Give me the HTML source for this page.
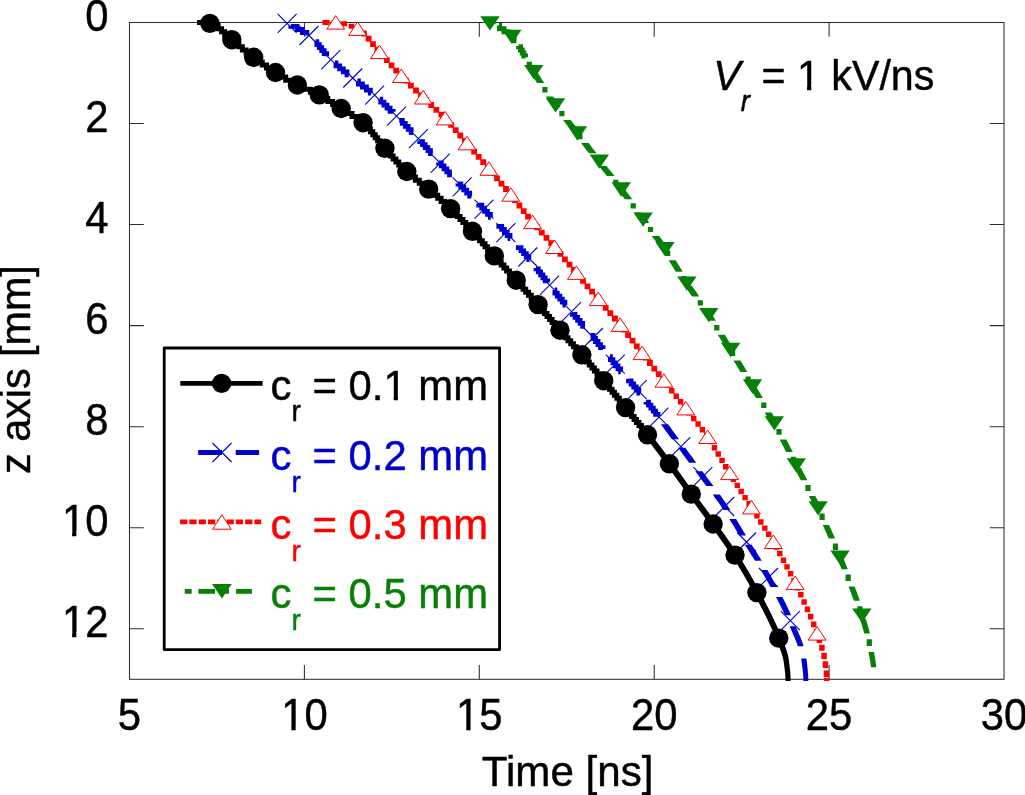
<!DOCTYPE html>
<html><head><meta charset="utf-8"><title>z axis vs time</title>
<style>
html,body{margin:0;padding:0;background:#fff;}
body{width:1025px;height:795px;overflow:hidden;font-family:"Liberation Sans",sans-serif;}
svg{display:block;will-change:transform;}
</style></head><body>
<svg width="1025" height="795" viewBox="0 0 1025 795">
<rect width="1025" height="795" fill="#fff"/>
<g stroke="#2e2e2e" stroke-width="1.05" fill="none">
<rect x="129.50" y="22.50" width="874.50" height="656.80"/>
<path d="M304.40 679.30v-14.30M304.40 22.50v14.30M479.30 679.30v-14.30M479.30 22.50v14.30M654.20 679.30v-14.30M654.20 22.50v14.30M829.10 679.30v-14.30M829.10 22.50v14.30M129.50 123.55h14.30M1004.00 123.55h-14.30M129.50 224.59h14.30M1004.00 224.59h-14.30M129.50 325.64h14.30M1004.00 325.64h-14.30M129.50 426.68h14.30M1004.00 426.68h-14.30M129.50 527.73h14.30M1004.00 527.73h-14.30M129.50 628.78h14.30M1004.00 628.78h-14.30"/>
</g>
<clipPath id="cp"><rect x="129.50" y="0" width="874.50" height="680.90"/></clipPath>
<g fill="none" clip-path="url(#cp)" stroke-linejoin="miter">
<path d="M487.3 22.6L493.0 22.6L493.0 24.2M499.0 25.6L499.5 25.6L499.5 28.7L504.0 28.7L504.0 31.7L507.8 31.7L507.8 34.6M511.9 37.8L514.1 37.8L514.1 40.8L516.4 40.8M518.6 46.0L518.6 46.8L520.5 46.8L520.5 49.9L522.3 49.9L522.3 52.9L523.9 52.9L523.9 55.9L525.5 55.9L525.5 57.2" stroke="#068006" stroke-width="5.0"/>
<path d="M526.7 61.8H531.9V67.6H526.7ZM537.1 72.0L538.1 73.5L539.1 75.1L540.1 76.6L541.1 78.2L542.1 79.8L543.1 81.3L544.1 82.9L537.0 82.9L536.0 81.3L535.0 79.8L534.0 78.2L533.0 76.6L532.0 75.1L531.0 73.5L530.1 72.0ZM542.3 87.0H547.5V92.4H542.3ZM553.1 96.6L554.2 98.1L555.2 99.6L556.3 101.2L557.4 102.7L558.5 104.2L559.6 105.7L560.7 107.3L553.3 107.3L552.2 105.7L551.2 104.2L550.1 102.7L549.0 101.2L548.0 99.6L547.0 98.1L545.9 96.6ZM559.3 111.1H564.5V116.3H559.3ZM570.7 120.1L572.1 121.8L573.4 123.5L574.8 125.2L576.1 126.9L577.4 128.6L578.7 130.3L571.1 130.3L569.8 128.6L568.4 126.9L567.1 125.2L565.7 123.5L564.4 121.8L563.1 120.1ZM577.3 134.0H582.5V139.2H577.3ZM588.7 143.0L590.0 144.7L591.3 146.4L592.6 148.2L593.9 149.9L595.3 151.6L596.6 153.3L589.0 153.3L587.7 151.6L586.3 149.9L585.0 148.2L583.7 146.4L582.4 144.7L581.1 143.0ZM595.1 157.0H600.3V162.2H595.1ZM606.6 166.0L607.9 167.7L609.3 169.4L610.6 171.1L612.0 172.7L613.3 174.4L614.6 176.1L606.9 176.1L605.6 174.4L604.3 172.7L602.9 171.1L601.6 169.4L600.2 167.7L598.9 166.0ZM613.2 179.8H618.4V185.0H613.2ZM624.5 188.9L625.8 190.6L627.1 192.4L628.4 194.1L629.7 195.8L630.9 197.6L632.2 199.3L624.8 199.3L623.5 197.6L622.2 195.8L620.9 194.1L619.6 192.4L618.3 190.6L617.0 188.9ZM630.6 203.2H635.8V208.5H630.6ZM641.7 212.6L643.0 214.3L644.2 216.1L645.5 217.8L646.8 219.6L648.1 221.3L649.4 223.1L641.9 223.1L640.6 221.3L639.4 219.6L638.1 217.8L636.8 216.1L635.6 214.3L634.3 212.6ZM647.9 226.9H653.1V232.1H647.9ZM659.2 236.0L660.3 237.5L661.4 239.0L662.5 240.5L663.6 242.0L664.7 243.5L665.7 245.0L666.8 246.5L659.5 246.5L658.4 245.0L657.3 243.5L656.2 242.0L655.1 240.5L654.0 239.0L652.8 237.5L651.7 236.0ZM665.1 250.5H670.3V256.0H665.1ZM675.7 260.3L676.7 261.9L677.7 263.6L678.7 265.2L679.7 266.8L680.7 268.4L681.7 270.0L682.7 271.7L675.7 271.7L674.7 270.0L673.7 268.4L672.7 266.8L671.7 265.2L670.7 263.6L669.7 261.9L668.7 260.3ZM681.0 275.9H686.2V281.4H681.0ZM691.8 285.6L692.8 287.2L693.9 288.7L695.0 290.3L696.1 291.8L697.1 293.3L698.2 294.9L699.3 296.4L692.0 296.4L690.9 294.9L689.8 293.3L688.8 291.8L687.7 290.3L686.6 288.7L685.6 287.2L684.6 285.6ZM697.7 300.3H702.9V305.6H697.7ZM708.7 309.8L709.8 311.3L710.8 312.9L711.8 314.5L712.9 316.0L713.9 317.6L714.9 319.2L715.9 320.7L708.8 320.7L707.8 319.2L706.8 317.6L705.7 316.0L704.7 314.5L703.6 312.9L702.5 311.3L701.4 309.8ZM714.2 324.9H719.4V330.4H714.2ZM724.8 334.8L725.8 336.4L726.8 338.0L727.8 339.7L728.8 341.3L729.8 342.9L730.8 344.5L731.8 346.2L724.8 346.2L723.8 344.5L722.8 342.9L721.8 341.3L720.8 339.7L719.8 338.0L718.8 336.4L717.8 334.8ZM730.0 350.4H735.2V356.1H730.0ZM740.5 360.5L741.5 362.2L742.4 363.8L743.4 365.5L744.4 367.1L745.4 368.8L746.4 370.4L747.4 372.0L740.5 372.0L739.5 370.4L738.5 368.8L737.5 367.1L736.5 365.5L735.5 363.8L734.5 362.2L733.5 360.5ZM745.6 376.4H750.8V382.1H745.6ZM756.0 386.6L757.0 388.2L758.0 389.8L759.0 391.5L760.0 393.1L761.0 394.8L761.9 396.4L762.9 398.1L756.0 398.1L755.0 396.4L754.0 394.8L753.0 393.1L752.0 391.5L751.1 389.8L750.1 388.2L749.1 386.6ZM761.2 402.4H766.4V408.0H761.2ZM771.6 412.5L772.6 414.2L773.5 415.9L774.5 417.6L775.5 419.3L776.4 421.0L777.3 422.6L778.3 424.3L771.5 424.3L770.6 422.6L769.6 421.0L768.7 419.3L767.7 417.6L766.7 415.9L765.7 414.2L764.7 412.5ZM776.4 428.9H781.6V434.8H776.4ZM786.4 439.6L787.2 441.2L788.0 442.8L788.8 444.3L789.6 445.9L790.4 447.4L791.2 449.0L792.0 450.6L792.8 452.1L786.2 452.1L785.4 450.6L784.6 449.0L783.8 447.4L783.0 445.9L782.2 444.3L781.4 442.8L780.6 441.2L779.8 439.6ZM790.9 456.8H796.1V462.9H790.9ZM800.9 467.8L801.7 469.3L802.5 470.9L803.3 472.4L804.1 474.0L804.9 475.5L805.7 477.1L806.5 478.6L807.3 480.2L800.7 480.2L799.9 478.6L799.1 477.1L798.3 475.5L797.5 474.0L796.7 472.4L795.9 470.9L795.0 469.3L794.2 467.8ZM805.4 484.9H810.6V491.0H805.4ZM815.3 495.9L816.1 497.5L816.9 499.1L817.7 500.7L818.5 502.2L819.3 503.8L820.0 505.4L820.8 507.0L821.5 508.6L815.1 508.6L814.3 507.0L813.5 505.4L812.8 503.8L812.0 502.2L811.2 500.7L810.4 499.1L809.6 497.5L808.8 495.9ZM819.5 513.6H824.7V519.9H819.5ZM829.1 525.1L829.9 526.7L830.6 528.4L831.4 530.1L832.1 531.7L832.8 533.4L833.6 535.1L834.3 536.8L835.0 538.4L828.7 538.4L828.0 536.8L827.2 535.1L826.5 533.4L825.8 531.7L825.0 530.1L824.3 528.4L823.5 526.7L822.7 525.1ZM832.9 543.5H838.1V550.1H832.9ZM842.2 555.4L842.8 557.0L843.5 558.5L844.1 560.0L844.7 561.6L845.3 563.1L846.0 564.6L846.6 566.2L847.2 567.7L847.8 569.2L841.6 569.2L841.0 567.7L840.4 566.2L839.7 564.6L839.1 563.1L838.5 561.6L837.9 560.0L837.2 558.5L836.6 557.0L836.0 555.4ZM845.6 574.5H850.8V581.1H845.6ZM854.7 586.6L855.3 588.2L855.9 589.7L856.5 591.3L857.1 592.9L857.6 594.4L858.2 596.0L858.8 597.6L859.3 599.1L859.9 600.7L853.9 600.7L853.3 599.1L852.7 597.6L852.1 596.0L851.6 594.4L851.0 592.9L850.4 591.3L849.8 589.7L849.2 588.2L848.6 586.6ZM857.3 606.2H862.5V613.0H857.3ZM865.8 618.7L866.3 620.4L866.8 622.0L867.3 623.6L867.7 625.3L868.2 626.9L868.6 628.5L869.1 630.1L869.5 631.8L869.9 633.4L864.2 633.4L863.8 631.8L863.3 630.1L862.8 628.5L862.4 626.9L861.9 625.3L861.4 623.6L860.9 622.0L860.4 620.4L859.9 618.7ZM866.7 639.3H871.9V646.1H866.7ZM874.0 652.1L874.3 653.6L874.5 655.1L874.8 656.6L875.0 658.2L875.3 659.7L875.5 661.2L875.8 662.7L876.0 664.2L876.2 665.7L876.2 667.2L871.0 667.2L870.8 665.7L870.6 664.2L870.3 662.7L870.1 661.2L869.8 659.7L869.6 658.2L869.3 656.6L869.0 655.1L868.8 653.6L868.5 652.1Z" fill="#068006"/>
<path d="" stroke="#ff0000" stroke-width="5.0"/>
<path d="M322.4 20.1H329.6V25.1H322.4ZM331.7 20.1H338.8V25.1H331.7ZM340.7 21.2H347.0V26.2H340.7ZM348.7 23.7H354.2V28.7H348.7ZM355.3 26.3H361.1V32.1H355.3ZM361.0 30.6H366.8V36.4H361.0ZM365.7 35.7H371.5V41.5H365.7ZM370.1 41.3H375.9V47.1H370.1ZM374.5 46.8H380.3V52.6H374.5ZM379.2 52.0H385.0V57.8H379.2ZM383.9 57.2H389.7V63.0H383.9ZM388.6 62.5H394.4V68.3H388.6ZM393.3 67.7H399.1V73.5H393.3ZM398.1 72.8H403.9V78.6H398.1ZM403.0 77.8H408.8V83.6H403.0ZM408.0 82.7H413.8V88.5H408.0ZM413.1 87.6H418.9V93.4H413.1ZM418.1 92.5H423.9V98.3H418.1ZM423.2 97.3H429.0V103.1H423.2ZM428.3 102.1H434.1V107.9H428.3ZM433.5 106.9H439.3V112.7H433.5ZM438.5 111.8H444.3V117.6H438.5ZM443.4 116.8H449.2V122.6H443.4ZM448.2 122.0H454.0V127.8H448.2ZM452.8 127.3H458.6V133.1H452.8ZM457.4 132.6H463.2V138.4H457.4ZM462.0 138.0H467.8V143.8H462.0ZM466.6 143.3H472.4V149.1H466.6ZM471.2 148.6H477.0V154.4H471.2ZM475.8 154.0H481.6V159.8H475.8ZM480.3 159.3H486.1V165.1H480.3ZM484.9 164.7H490.7V170.5H484.9ZM489.5 170.0H495.3V175.8H489.5ZM494.1 175.4H499.9V181.2H494.1ZM498.6 180.8H504.4V186.6H498.6ZM503.1 186.1H508.9V191.9H503.1ZM507.7 191.6H513.5V197.4H507.7ZM512.1 197.1H517.9V202.9H512.1ZM516.5 202.6H522.3V208.4H516.5ZM520.8 208.2H526.6V214.0H520.8ZM525.2 213.7H531.0V219.5H525.2ZM529.7 219.2H535.5V225.0H529.7ZM534.3 224.5H540.1V230.3H534.3ZM538.9 229.8H544.7V235.6H538.9ZM543.6 235.0H549.4V240.8H543.6ZM548.3 240.3H554.1V246.1H548.3ZM552.9 245.6H558.7V251.4H552.9ZM557.5 251.0H563.3V256.8H557.5ZM562.0 256.4H567.8V262.2H562.0ZM566.6 261.7H572.4V267.5H566.6ZM571.1 267.1H576.9V272.9H571.1ZM575.6 272.5H581.4V278.3H575.6ZM580.1 278.0H585.9V283.8H580.1ZM584.6 283.4H590.4V289.2H584.6ZM589.2 288.8H595.0V294.6H589.2ZM593.7 294.2H599.5V300.0H593.7ZM598.2 299.6H604.0V305.4H598.2ZM602.8 304.9H608.6V310.7H602.8ZM607.4 310.3H613.2V316.1H607.4ZM612.0 315.6H617.8V321.4H612.0ZM616.5 321.1H622.3V326.9H616.5ZM620.9 326.6H626.7V332.4H620.9ZM625.2 332.2H631.0V338.0H625.2ZM629.6 337.8H635.4V343.6H629.6ZM633.9 343.4H639.7V349.2H633.9ZM638.2 349.0H644.0V354.8H638.2ZM642.6 354.6H648.4V360.4H642.6ZM647.0 360.1H652.8V365.9H647.0ZM651.4 365.7H657.2V371.5H651.4ZM655.8 371.2H661.6V377.0H655.8ZM660.2 376.7H666.0V382.5H660.2ZM664.5 382.3H670.3V388.1H664.5ZM669.1 388.0H674.5V393.4H669.1ZM673.5 393.6H678.9V399.0H673.5ZM677.9 399.1H683.3V404.5H677.9ZM682.3 404.7H687.7V410.1H682.3ZM686.6 410.2H692.0V415.6H686.6ZM691.0 415.8H696.4V421.2H691.0ZM695.4 421.3H700.8V426.7H695.4ZM699.7 427.0H705.1V432.4H699.7ZM703.9 432.8H709.3V438.2H703.9ZM707.9 438.8H713.3V444.2H707.9ZM711.8 445.0H717.2V450.4H711.8ZM715.5 451.3H720.9V456.7H715.5ZM719.3 457.7H724.7V463.1H719.3ZM723.0 464.1H728.4V469.5H723.0ZM726.8 470.3H732.2V475.7H726.8ZM730.7 476.5H736.1V481.9H730.7ZM734.6 482.7H740.0V488.1H734.6ZM738.5 488.8H743.9V494.2H738.5ZM742.4 494.9H747.8V500.3H742.4ZM746.4 501.0H751.8V506.4H746.4ZM750.3 507.1H755.7V512.5H750.3ZM754.2 513.2H759.6V518.6H754.2ZM758.1 519.3H763.5V524.7H758.1ZM762.1 525.4H767.5V530.8H762.1ZM766.0 531.6H771.4V537.0H766.0ZM769.8 537.9H775.2V543.3H769.8ZM773.5 544.3H778.9V549.7H773.5ZM777.1 550.8H782.5V556.2H777.1ZM780.8 557.5H786.2V562.9H780.8ZM784.3 564.2H789.7V569.6H784.3ZM787.9 571.0H793.3V576.4H787.9ZM791.3 578.0H796.7V583.4H791.3ZM794.7 585.0H800.1V590.5H794.7ZM798.1 592.1H803.5V597.6H798.1ZM801.4 599.2H806.8V604.8H801.4ZM804.7 606.5H810.1V612.2H804.7ZM807.9 613.8H813.3V619.6H807.9ZM811.0 621.4H816.4V627.3H811.0ZM813.8 629.0H819.2V635.1H813.8ZM816.6 636.8H822.0V642.9H816.6ZM819.2 644.7H824.6V650.8H819.2ZM821.4 652.7H826.8V659.2H821.4ZM822.7 661.3H828.1V667.9H822.7ZM823.7 670.4H829.1V677.0H823.7ZM824.0 678.0H829.4V683.4H824.0Z" fill="#ff0000"/>
<path d="M290.8 25.8L290.8 26.4L297.1 26.4L297.1 29.5L302.4 29.5L302.4 32.5L306.9 32.5L306.9 35.5M315.6 41.6L316.8 41.6L316.8 44.6L319.3 44.6L319.3 47.6L321.7 47.6L321.7 50.7L324.2 50.7L324.2 53.7L326.7 53.7L326.7 56.3M335.0 62.8L336.0 62.8L336.0 65.8L339.6 65.8L339.6 68.8L343.3 68.8L343.3 71.9L347.0 71.9L347.0 74.9L348.7 74.9M357.4 81.0L358.4 81.0L358.4 84.0L362.4 84.0L362.4 87.0L366.4 87.0L366.4 90.1L370.3 90.1L370.3 93.1L371.1 93.1M379.8 99.1L380.7 99.1L380.7 102.2L383.9 102.2L383.9 105.2L387.0 105.2L387.0 108.2L390.1 108.2L390.1 111.3L393.2 111.3L393.2 111.7M399.3 120.4L402.3 120.4L402.3 123.4L405.3 123.4L405.3 126.4L408.2 126.4L408.2 129.4L411.2 129.5L411.2 132.5L413.0 132.5M419.7 140.5L419.7 141.6L422.5 141.6L422.5 144.6L425.2 144.6L425.2 147.6L427.9 147.6L427.9 150.7L430.5 150.7L430.5 153.7L432.4 153.7M438.5 162.4L438.5 162.8L441.3 162.8L441.3 165.8L444.0 165.8L444.0 168.8L446.8 168.8L446.8 171.9L449.5 171.9L449.5 174.9L451.9 174.9M458.0 183.6L458.0 184.0L460.8 184.0L460.8 187.0L463.7 187.0L463.7 190.0L466.7 190.1L466.7 193.1L469.7 193.1L469.7 196.1L471.3 196.1M478.7 203.4L478.7 205.2L481.7 205.2L481.7 208.2L484.6 208.2L484.6 211.3L487.5 211.3L487.5 214.3L490.4 214.3L490.4 217.3L490.7 217.3M498.8 224.0L498.8 226.4L501.6 226.4L501.6 229.4L504.4 229.4L504.4 232.5L507.2 232.5L507.2 235.5L510.0 235.5L510.0 238.5L510.1 238.5M518.3 245.2L518.3 247.6L521.0 247.6L521.0 250.6L523.6 250.7L523.6 253.7L526.3 253.7L526.3 256.7L528.8 256.7L528.8 259.7L529.6 259.7M536.0 268.1L536.0 268.8L538.3 268.8L538.3 271.9L540.6 271.9L540.6 274.9L542.9 274.9L542.9 277.9L545.2 277.9L545.2 280.9L547.6 280.9L547.6 282.4M554.7 290.0L554.9 290.0L554.9 293.1L557.3 293.1L557.3 296.1L559.8 296.1L559.8 299.1L562.3 299.1L562.3 302.2L564.9 302.2L564.9 305.2L565.4 305.2M572.4 313.0L572.4 314.3L575.0 314.3L575.0 317.3L577.6 317.3L577.6 320.3L580.1 320.3L580.1 323.4L582.7 323.4L582.7 326.4L584.9 326.4M590.6 335.5L593.0 335.5L593.0 338.5L595.5 338.5L595.5 341.5L598.0 341.5L598.0 344.6L600.5 344.6L600.5 347.6L603.0 347.6L603.0 348.9M610.0 356.7L610.4 356.7L610.4 359.7L612.9 359.7L612.9 362.8L615.4 362.8L615.4 365.8L618.0 365.8L618.0 368.8L620.6 368.8L620.6 371.8L620.7 371.8M628.5 378.8L628.5 380.9L631.1 380.9L631.1 384.0L633.7 384.0L633.7 387.0L636.3 387.0L636.3 390.0L638.8 390.0L638.8 393.1L640.2 393.1M646.1 401.9L646.1 402.1L648.5 402.1L648.5 405.2L650.9 405.2L650.9 408.2L653.3 408.2L653.3 411.2L655.6 411.2L655.6 414.3L658.0 414.3L658.0 415.9" stroke="#0000cd" stroke-width="4.8"/>
<path d="M668.0 424.3L669.2 425.9L670.5 427.6L671.7 429.2L672.9 430.9L674.1 432.6L675.3 434.2L676.6 435.9L677.8 437.5L679.0 439.2L671.9 439.2L670.6 437.5L669.4 435.9L668.2 434.2L667.0 432.6L665.8 430.9L664.5 429.2L663.3 427.6L662.1 425.9L660.8 424.3ZM685.3 447.7L686.5 449.4L687.7 451.0L688.9 452.7L690.1 454.4L691.4 456.0L692.6 457.7L693.8 459.4L695.0 461.0L696.2 462.7L689.1 462.7L687.9 461.0L686.7 459.4L685.4 457.7L684.2 456.0L683.0 454.4L681.8 452.7L680.6 451.0L679.3 449.4L678.1 447.7ZM702.5 471.2L703.7 472.9L704.9 474.6L706.1 476.2L707.3 477.9L708.6 479.5L709.8 481.2L711.0 482.8L712.3 484.5L713.5 486.1L706.3 486.1L705.1 484.5L703.8 482.8L702.6 481.2L701.4 479.5L700.2 477.9L699.0 476.2L697.8 474.6L696.6 472.9L695.3 471.2ZM719.8 494.6L721.0 496.1L722.1 497.7L723.1 499.2L724.2 500.7L725.3 502.3L726.3 503.8L727.4 505.3L728.4 506.9L729.4 508.4L730.4 509.9L723.5 509.9L722.5 508.4L721.5 506.9L720.4 505.3L719.4 503.8L718.3 502.3L717.2 500.7L716.1 499.2L714.9 497.7L713.8 496.1L712.7 494.6ZM736.1 519.1L737.1 520.7L738.1 522.4L739.1 524.0L740.0 525.6L741.0 527.3L742.0 528.9L743.0 530.6L744.0 532.2L745.0 533.8L745.9 535.5L739.3 535.5L738.3 533.8L737.3 532.2L736.3 530.6L735.4 528.9L734.4 527.3L733.4 525.6L732.4 524.0L731.4 522.4L730.4 520.7L729.4 519.1ZM751.7 544.8L752.7 546.4L753.7 548.0L754.7 549.6L755.7 551.2L756.8 552.8L757.8 554.4L758.8 556.0L759.8 557.6L760.8 559.2L761.8 560.8L755.1 560.8L754.1 559.2L753.1 557.6L752.0 556.0L751.0 554.4L750.0 552.8L749.0 551.2L748.0 549.6L747.0 548.0L745.9 546.4L744.9 544.8ZM767.5 570.1L768.4 571.7L769.3 573.2L770.2 574.7L771.0 576.3L771.9 577.8L772.7 579.4L773.6 580.9L774.5 582.4L775.3 584.0L776.2 585.5L777.0 587.1L770.5 587.1L769.7 585.5L768.8 584.0L768.0 582.4L767.1 580.9L766.3 579.4L765.4 577.8L764.5 576.3L763.6 574.7L762.7 573.2L761.8 571.7L760.9 570.1ZM782.3 597.0L783.1 598.5L783.9 600.1L784.7 601.6L785.4 603.1L786.2 604.6L786.9 606.2L787.6 607.7L788.4 609.2L789.1 610.7L789.8 612.3L790.4 613.8L791.1 615.3L785.0 615.3L784.3 613.8L783.6 612.3L782.9 610.7L782.2 609.2L781.4 607.7L780.7 606.2L779.9 604.6L779.1 603.1L778.3 601.6L777.6 600.1L776.8 598.5L775.9 597.0ZM795.8 626.3L796.4 627.9L797.1 629.4L797.7 630.9L798.4 632.4L799.0 634.0L799.6 635.5L800.3 637.0L800.9 638.5L801.4 640.1L802.0 641.6L802.5 643.1L803.0 644.6L803.5 646.2L797.8 646.2L797.3 644.6L796.7 643.1L796.1 641.6L795.5 640.1L794.9 638.5L794.3 637.0L793.7 635.5L793.0 634.0L792.4 632.4L791.7 630.9L791.1 629.4L790.4 627.9L789.7 626.3ZM806.4 658.4L806.6 660.0L806.8 661.5L807.0 663.1L807.2 664.6L807.3 666.2L807.5 667.8L807.7 669.3L807.8 670.9L807.9 672.4L808.1 674.0L808.1 675.6L808.2 677.1L808.3 678.7L808.3 680.3L808.3 681.8L803.5 681.8L803.4 680.3L803.4 678.7L803.3 677.1L803.2 675.6L803.1 674.0L802.9 672.4L802.8 670.9L802.6 669.3L802.4 667.8L802.2 666.2L802.0 664.6L801.8 663.1L801.6 661.5L801.4 660.0L801.1 658.4Z" fill="#0000cd"/>
<path d="M197.0 22.6L212.8 22.6L212.8 25.6L218.1 25.6L218.1 28.7L221.6 28.7L221.6 31.7L224.7 31.7L224.7 34.7L227.8 34.7L227.8 37.8L231.2 37.8L231.2 40.8L235.1 40.8L235.1 43.8L238.8 43.8L238.8 46.8L242.4 46.8L242.4 49.9L246.1 49.9L246.1 52.9L249.9 52.9L249.9 55.9L253.9 55.9L253.9 59.0L258.0 59.0L258.0 62.0L262.2 62.0L262.2 65.0L266.5 65.0L266.5 68.0L271.0 68.0L271.0 71.1L275.7 71.1L275.7 74.1L280.6 74.1L280.6 77.1L285.7 77.1L285.7 80.2L291.1 80.2L291.1 83.2L296.9 83.2L296.9 86.2L303.3 86.2L303.3 89.3L310.4 89.3L310.4 92.3L317.1 92.3L317.1 95.3L322.8 95.3L322.8 98.4L327.8 98.4L327.8 101.4L332.6 101.4L332.6 104.4L337.2 104.4L337.2 107.4L341.9 107.4L341.9 110.5L346.9 110.5L346.9 113.5L352.0 113.5L352.0 116.5L356.8 116.5L356.8 119.6L361.1 119.6L361.1 122.6L364.6 122.6L364.6 125.6L367.7 125.6L367.7 128.6L370.4 128.7L370.4 131.7L372.8 131.7L372.8 134.7L375.2 134.7L375.2 137.7L377.6 137.7L377.6 140.8L379.9 140.8L379.9 143.8L382.4 143.8L382.4 146.8L385.0 146.8L385.0 149.9L387.7 149.9L387.7 152.9L390.4 152.9L390.4 155.9L393.1 155.9L393.1 158.9L395.9 158.9L395.9 162.0L398.7 162.0L398.7 165.0L401.7 165.0L401.7 168.0L404.7 168.0L404.7 171.1L408.0 171.1L408.0 174.1L411.6 174.1L411.6 177.1L415.4 177.1L415.4 180.2L419.3 180.2L419.3 183.2L423.3 183.2L423.3 186.2L427.1 186.2L427.1 189.2L430.7 189.2L430.7 192.3L434.2 192.3L434.2 195.3L437.7 195.3L437.7 198.3L441.1 198.3L441.1 201.4L444.5 201.4L444.5 204.4L447.7 204.4L447.7 207.4L450.9 207.4L450.9 210.5L454.0 210.5L454.0 213.5L457.1 213.5L457.1 216.5L460.0 216.5L460.0 219.5L462.9 219.5L462.9 222.6L465.8 222.6L465.8 225.6L468.6 225.6L468.6 228.6L471.4 228.6L471.4 231.7L474.2 231.7L474.2 234.7L476.9 234.7L476.9 237.7L479.6 237.7L479.6 240.8L482.3 240.8L482.3 243.8L485.0 243.8L485.0 246.8L487.6 246.8L487.6 249.8L490.3 249.8L490.3 252.9L493.0 252.9L493.0 255.9L495.7 255.9L495.7 258.9L498.4 258.9L498.4 262.0L501.2 262.0L501.2 265.0L503.9 265.0L503.9 268.0L506.6 268.0L506.6 271.1L509.4 271.1L509.4 274.1L512.1 274.1L512.1 277.1L514.8 277.1L514.8 280.1L517.5 280.2L517.5 283.2L520.3 283.2L520.3 286.2L523.0 286.2L523.0 289.2L525.7 289.2L525.7 292.3L528.5 292.3L528.5 295.3L531.2 295.3L531.2 298.3L533.9 298.3L533.9 301.4L536.6 301.4L536.6 304.4L539.2 304.4L539.2 307.4L541.9 307.4L541.9 310.4L544.4 310.5L544.4 313.5L547.0 313.5L547.0 316.5L549.6 316.5L549.6 319.5L552.1 319.5L552.1 322.6L554.7 322.6L554.7 325.6L557.3 325.6L557.3 328.6L559.9 328.6L559.9 331.7L562.6 331.7L562.6 334.7L565.3 334.7L565.3 337.7L568.0 337.7L568.0 340.8L570.7 340.8L570.7 343.8L573.4 343.8L573.4 346.8L576.2 346.8L576.2 349.8L578.8 349.8L578.8 352.9L581.5 352.9L581.5 355.9L584.1 355.9L584.1 358.9L586.7 358.9L586.7 362.0L589.3 362.0L589.3 365.0L591.9 365.0L591.9 368.0L594.4 368.0L594.4 371.1L597.0 371.1L597.0 374.1L599.5 374.1L599.5 377.1L602.0 377.1L602.0 380.1L604.5 380.1L604.5 383.2L607.0 383.2L607.0 386.2L609.5 386.2L609.5 389.2L612.0 389.2L612.0 392.3L614.4 392.3L614.4 395.3L616.9 395.3L616.9 398.3L619.3 398.3L619.3 401.3L621.8 401.4L621.8 404.4L624.2 404.4L624.2 407.4L626.7 407.4L626.7 410.4L629.2 410.4L629.2 413.5L631.6 413.5L631.6 416.5L634.1 416.5L634.1 419.5L636.5 419.5L636.5 422.6L639.0 422.6L639.0 425.6L641.4 425.6L641.4 428.6" stroke="#000" stroke-width="5.0"/>
<path d="M645.0 426.7L646.2 428.2L647.4 429.7L648.5 431.2L649.7 432.7L650.9 434.2L652.0 435.7L653.2 437.2L654.3 438.7L655.5 440.3L656.6 441.8L657.8 443.3L658.9 444.8L660.1 446.3L661.2 447.8L662.3 449.3L663.4 450.8L664.6 452.3L665.7 453.8L666.8 455.3L667.9 456.8L669.0 458.3L670.1 459.8L671.2 461.3L672.3 462.8L673.5 464.3L674.5 465.8L675.6 467.3L676.7 468.8L677.8 470.3L678.9 471.8L680.0 473.3L681.1 474.8L682.1 476.3L683.2 477.8L684.3 479.3L685.4 480.8L686.4 482.3L687.5 483.8L688.6 485.3L689.7 486.8L690.8 488.3L691.8 489.8L692.9 491.3L694.0 492.8L695.1 494.3L696.2 495.8L697.3 497.3L698.4 498.8L699.5 500.3L700.6 501.8L701.7 503.3L702.8 504.8L703.9 506.3L705.1 507.8L706.2 509.3L707.3 510.8L708.4 512.3L709.5 513.8L710.6 515.3L711.7 516.8L712.7 518.3L713.8 519.8L714.9 521.3L716.0 522.8L717.1 524.3L718.2 525.8L719.2 527.3L720.3 528.8L721.4 530.3L722.5 531.8L723.6 533.3L724.7 534.8L725.8 536.4L726.9 537.9L727.9 539.4L729.0 540.9L730.0 542.4L731.1 543.9L732.1 545.4L733.1 546.9L734.2 548.4L735.2 549.9L736.2 551.4L737.1 552.9L738.1 554.4L739.0 555.9L740.0 557.4L740.9 558.9L741.9 560.4L742.8 561.9L743.7 563.4L744.6 564.9L745.5 566.4L746.4 567.9L747.3 569.4L748.2 570.9L749.1 572.4L749.9 573.9L750.8 575.4L751.6 576.9L752.5 578.4L753.3 579.9L754.2 581.4L755.0 582.9L755.8 584.4L756.6 585.9L757.5 587.4L758.3 588.9L759.1 590.4L759.9 591.9L760.7 593.4L761.4 594.9L762.2 596.4L763.0 597.9L763.8 599.4L764.6 600.9L765.4 602.4L766.2 603.9L766.9 605.4L767.7 606.9L768.5 608.4L769.2 609.9L770.0 611.4L770.7 612.9L771.5 614.4L772.2 615.9L772.9 617.4L773.6 618.9L774.3 620.4L775.0 621.9L775.7 623.4L776.4 624.9L777.1 626.4L777.7 627.9L778.4 629.4L779.0 630.9L779.6 632.4L780.2 634.0L780.8 635.5L781.4 637.0L782.0 638.5L782.6 640.0L783.2 641.5L783.8 643.0L784.4 644.5L785.0 646.0L785.6 647.5L786.1 649.0L786.6 650.5L787.1 652.0L787.5 653.5L787.9 655.0L788.2 656.5L788.5 658.0L788.7 659.5L788.9 661.0L789.1 662.5L789.3 664.0L789.5 665.5L789.7 667.0L789.9 668.5L790.0 670.0L790.2 671.5L790.3 673.0L790.4 674.5L790.5 676.0L790.5 677.5L790.6 679.0L790.6 680.5L790.6 682.0L785.6 682.0L785.6 680.5L785.5 679.0L785.4 677.5L785.3 676.0L785.2 674.5L785.1 673.0L784.9 671.5L784.8 670.0L784.6 668.5L784.4 667.0L784.2 665.5L784.0 664.0L783.8 662.5L783.5 661.0L783.3 659.5L782.9 658.0L782.6 656.5L782.1 655.0L781.7 653.5L781.1 652.0L780.6 650.5L780.0 649.0L779.4 647.5L778.8 646.0L778.2 644.5L777.6 643.0L777.0 641.5L776.4 640.0L775.8 638.5L775.2 637.0L774.6 635.5L774.0 634.0L773.4 632.4L772.7 630.9L772.1 629.4L771.4 627.9L770.7 626.4L770.0 624.9L769.3 623.4L768.6 621.9L767.9 620.4L767.2 618.9L766.4 617.4L765.7 615.9L764.9 614.4L764.2 612.9L763.4 611.4L762.7 609.9L761.9 608.4L761.1 606.9L760.3 605.4L759.5 603.9L758.8 602.4L758.0 600.9L757.2 599.4L756.4 597.9L755.6 596.4L754.8 594.9L754.0 593.4L753.2 591.9L752.4 590.4L751.6 588.9L750.8 587.4L749.9 585.9L749.1 584.4L748.3 582.9L747.4 581.4L746.6 579.9L745.7 578.4L744.8 576.9L744.0 575.4L743.1 573.9L742.2 572.4L741.3 570.9L740.4 569.4L739.5 567.9L738.6 566.4L737.7 564.9L736.7 563.4L735.8 561.9L734.8 560.4L733.9 558.9L732.9 557.4L732.0 555.9L731.0 554.4L730.0 552.9L729.0 551.4L728.0 549.9L726.9 548.4L725.9 546.9L724.8 545.4L723.8 543.9L722.7 542.4L721.6 540.9L720.6 539.4L719.5 537.9L718.4 536.4L717.3 534.8L716.2 533.3L715.1 531.8L714.0 530.3L712.9 528.8L711.9 527.3L710.8 525.8L709.7 524.3L708.6 522.8L707.5 521.3L706.4 519.8L705.3 518.3L704.2 516.8L703.1 515.3L702.0 513.8L700.9 512.3L699.8 510.8L698.7 509.3L697.6 507.8L696.5 506.3L695.4 504.8L694.3 503.3L693.2 501.8L692.1 500.3L691.0 498.8L689.9 497.3L688.8 495.8L687.7 494.3L686.6 492.8L685.5 491.3L684.5 489.8L683.4 488.3L682.3 486.8L681.2 485.3L680.2 483.8L679.1 482.3L678.0 480.8L676.9 479.3L675.8 477.8L674.8 476.3L673.7 474.8L672.6 473.3L671.5 471.8L670.4 470.3L669.3 468.8L668.2 467.3L667.1 465.8L666.0 464.3L664.9 462.8L663.8 461.3L662.7 459.8L661.6 458.3L660.4 456.8L659.3 455.3L658.2 453.8L657.1 452.3L655.9 450.8L654.8 449.3L653.7 447.8L652.5 446.3L651.4 444.8L650.2 443.3L649.1 441.8L647.9 440.3L646.8 438.7L645.6 437.2L644.4 435.7L643.2 434.2L642.1 432.7L640.9 431.2L639.7 429.7L638.5 428.2L637.3 426.7Z" fill="#000"/>
</g>
<g>
<path d="M480.25 16.25h19.4l-9.7 14.3zM502.13 29.75h19.4l-9.7 14.3zM524.01 65.05h19.4l-9.7 14.3zM545.89 98.15h19.4l-9.7 14.3zM567.77 126.35h19.4l-9.7 14.3zM589.65 154.55h19.4l-9.7 14.3zM611.53 182.35h19.4l-9.7 14.3zM633.41 212.45h19.4l-9.7 14.3zM655.29 242.05h19.4l-9.7 14.3zM677.17 276.55h19.4l-9.7 14.3zM699.05 308.05h19.4l-9.7 14.3zM720.93 342.85h19.4l-9.7 14.3zM742.81 379.35h19.4l-9.7 14.3zM764.69 416.25h19.4l-9.7 14.3zM786.57 458.15h19.4l-9.7 14.3zM808.45 501.15h19.4l-9.7 14.3zM830.33 550.55h19.4l-9.7 14.3zM852.21 608.55h19.4l-9.7 14.3z" fill="#068006"/>
<path d="M335.70 15.60l8.9 13.5h-17.8zM357.58 21.90l8.9 13.5h-17.8zM379.46 45.10l8.9 13.5h-17.8zM401.34 69.00l8.9 13.5h-17.8zM423.22 90.50l8.9 13.5h-17.8zM445.10 111.40l8.9 13.5h-17.8zM466.98 136.30l8.9 13.5h-17.8zM488.86 161.80l8.9 13.5h-17.8zM510.74 187.70l8.9 13.5h-17.8zM532.62 215.10l8.9 13.5h-17.8zM554.50 240.00l8.9 13.5h-17.8zM576.38 265.90l8.9 13.5h-17.8zM598.26 292.10l8.9 13.5h-17.8zM620.14 317.90l8.9 13.5h-17.8zM642.02 346.10l8.9 13.5h-17.8zM663.90 373.70l8.9 13.5h-17.8zM685.78 401.40l8.9 13.5h-17.8zM707.66 430.00l8.9 13.5h-17.8zM729.54 466.10l8.9 13.5h-17.8zM751.42 500.40l8.9 13.5h-17.8zM773.30 535.00l8.9 13.5h-17.8zM795.18 576.10l8.9 13.5h-17.8zM817.06 626.60l8.9 13.5h-17.8z" fill="#fff" stroke="#ff0000" stroke-width="1"/>
<path d="M277.60 13.90l19 19M296.60 13.90l-19 19M299.48 26.00l19 19M318.48 26.00l-19 19M321.36 50.10l19 19M340.36 50.10l-19 19M343.24 68.50l19 19M362.24 68.50l-19 19M365.12 85.70l19 19M384.12 85.70l-19 19M387.00 106.60l19 19M406.00 106.60l-19 19M408.88 129.10l19 19M427.88 129.10l-19 19M430.76 153.70l19 19M449.76 153.70l-19 19M452.64 177.40l19 19M471.64 177.40l-19 19M474.52 199.60l19 19M493.52 199.60l-19 19M496.40 223.10l19 19M515.40 223.10l-19 19M518.28 247.50l19 19M537.28 247.50l-19 19M540.16 275.60l19 19M559.16 275.60l-19 19M562.04 302.20l19 19M581.04 302.20l-19 19M583.92 328.00l19 19M602.92 328.00l-19 19M605.80 354.60l19 19M624.80 354.60l-19 19M627.68 380.10l19 19M646.68 380.10l-19 19M649.56 407.70l19 19M668.56 407.70l-19 19M671.44 437.20l19 19M690.44 437.20l-19 19M693.32 467.10l19 19M712.32 467.10l-19 19M715.20 497.00l19 19M734.20 497.00l-19 19M737.08 532.50l19 19M756.08 532.50l-19 19M758.96 568.00l19 19M777.96 568.00l-19 19M780.84 611.10l19 19M799.84 611.10l-19 19" fill="none" stroke="#0000cd" stroke-width="1.1"/>
<circle cx="209.90" cy="23.40" r="9.7"/>
<circle cx="231.78" cy="39.70" r="9.7"/>
<circle cx="253.66" cy="57.30" r="9.7"/>
<circle cx="275.54" cy="72.50" r="9.7"/>
<circle cx="297.42" cy="85.00" r="9.7"/>
<circle cx="319.30" cy="94.90" r="9.7"/>
<circle cx="341.18" cy="108.50" r="9.7"/>
<circle cx="363.06" cy="122.70" r="9.7"/>
<circle cx="384.94" cy="148.30" r="9.7"/>
<circle cx="406.82" cy="171.50" r="9.7"/>
<circle cx="428.70" cy="189.10" r="9.7"/>
<circle cx="450.58" cy="208.60" r="9.7"/>
<circle cx="472.46" cy="231.30" r="9.7"/>
<circle cx="494.34" cy="255.90" r="9.7"/>
<circle cx="516.22" cy="280.20" r="9.7"/>
<circle cx="538.10" cy="304.60" r="9.7"/>
<circle cx="559.98" cy="330.20" r="9.7"/>
<circle cx="581.86" cy="354.80" r="9.7"/>
<circle cx="603.74" cy="380.70" r="9.7"/>
<circle cx="625.62" cy="407.60" r="9.7"/>
<circle cx="647.50" cy="434.80" r="9.7"/>
<circle cx="669.38" cy="463.80" r="9.7"/>
<circle cx="691.26" cy="494.10" r="9.7"/>
<circle cx="713.14" cy="524.00" r="9.7"/>
<circle cx="735.02" cy="555.10" r="9.7"/>
<circle cx="756.90" cy="592.60" r="9.7"/>
<circle cx="778.78" cy="638.10" r="9.7"/>
</g>
<g font-family="'Liberation Sans', sans-serif" stroke-width="0.45" stroke-linejoin="round">
<text transform="translate(108.40 30.60) scale(0.9570 1)" font-size="43.70" text-anchor="end" fill="#000" stroke="#000">0</text>
<text transform="translate(108.40 131.65) scale(0.9570 1)" font-size="43.70" text-anchor="end" fill="#000" stroke="#000">2</text>
<text transform="translate(108.40 232.69) scale(0.9570 1)" font-size="43.70" text-anchor="end" fill="#000" stroke="#000">4</text>
<text transform="translate(108.40 333.74) scale(0.9570 1)" font-size="43.70" text-anchor="end" fill="#000" stroke="#000">6</text>
<text transform="translate(108.40 434.78) scale(0.9570 1)" font-size="43.70" text-anchor="end" fill="#000" stroke="#000">8</text>
<text transform="translate(108.40 535.83) scale(0.9570 1)" font-size="43.70" text-anchor="end" fill="#000" stroke="#000">10</text>
<text transform="translate(108.40 636.88) scale(0.9570 1)" font-size="43.70" text-anchor="end" fill="#000" stroke="#000">12</text>
<text transform="translate(129.50 730.40) scale(0.9570 1)" font-size="43.70" text-anchor="middle" fill="#000" stroke="#000">5</text>
<text transform="translate(304.40 730.40) scale(0.9570 1)" font-size="43.70" text-anchor="middle" fill="#000" stroke="#000">10</text>
<text transform="translate(479.30 730.40) scale(0.9570 1)" font-size="43.70" text-anchor="middle" fill="#000" stroke="#000">15</text>
<text transform="translate(654.20 730.40) scale(0.9570 1)" font-size="43.70" text-anchor="middle" fill="#000" stroke="#000">20</text>
<text transform="translate(829.10 730.40) scale(0.9570 1)" font-size="43.70" text-anchor="middle" fill="#000" stroke="#000">25</text>
<text transform="translate(1004.00 730.40) scale(0.9570 1)" font-size="43.70" text-anchor="middle" fill="#000" stroke="#000">30</text>
<text transform="translate(567.60 786.40) scale(0.9890 1)" font-size="42.60" text-anchor="middle" fill="#000" stroke="#000">Time [ns]</text>
<text transform="translate(30.10 369.60) rotate(-90) scale(0.9690 1)" font-size="42.60" text-anchor="middle" fill="#000" stroke="#000">z axis [mm]</text>
<text transform="translate(713.30 89.80) scale(0.9500 1)" font-size="43.40" text-anchor="start" fill="#000" stroke="#000"><tspan font-style="italic">V</tspan><tspan font-style="italic" font-size="29.0" dy="21.1">r</tspan><tspan dy="-21.1"> = 1 kV/ns</tspan></text>
<rect x="164.2" y="348" width="335.4" height="301.6" fill="#fff" stroke="#000" stroke-width="2.8"/>
<text transform="translate(270.60 399.70) scale(0.9770 1)" font-size="42.80" text-anchor="start" fill="#000" stroke="#000">c<tspan font-size="29.0" dy="21.6">r</tspan><tspan dy="-21.6"> = 0.1 mm</tspan></text>
<text transform="translate(270.60 470.00) scale(0.9770 1)" font-size="42.80" text-anchor="start" fill="#0000cd" stroke="#0000cd">c<tspan font-size="29.0" dy="21.6">r</tspan><tspan dy="-21.6"> = 0.2 mm</tspan></text>
<text transform="translate(270.60 539.30) scale(0.9770 1)" font-size="42.80" text-anchor="start" fill="#ff0000" stroke="#ff0000">c<tspan font-size="29.0" dy="21.6">r</tspan><tspan dy="-21.6"> = 0.3 mm</tspan></text>
<text transform="translate(270.60 608.30) scale(0.9770 1)" font-size="42.80" text-anchor="start" fill="#068006" stroke="#068006">c<tspan font-size="29.0" dy="21.6">r</tspan><tspan dy="-21.6"> = 0.5 mm</tspan></text>
</g>
<rect x="63.86" y="531.00" width="8.23" height="7.00" fill="#fff"/>
<rect x="76.39" y="531.00" width="7.90" height="7.00" fill="#fff"/>
<rect x="63.86" y="632.00" width="8.23" height="7.00" fill="#fff"/>
<rect x="76.39" y="632.00" width="7.90" height="7.00" fill="#fff"/>
<rect x="283.12" y="726.00" width="8.23" height="7.00" fill="#fff"/>
<rect x="295.65" y="726.00" width="7.90" height="7.00" fill="#fff"/>
<rect x="458.02" y="726.00" width="8.23" height="7.00" fill="#fff"/>
<rect x="470.55" y="726.00" width="7.90" height="7.00" fill="#fff"/>
<rect x="798.89" y="85.00" width="8.13" height="7.00" fill="#fff"/>
<rect x="811.26" y="85.00" width="7.81" height="7.00" fill="#fff"/>
<rect x="385.42" y="395.00" width="8.23" height="7.00" fill="#fff"/>
<rect x="397.95" y="395.00" width="7.90" height="7.00" fill="#fff"/>
<path d="M180.3 383.4H262.6" stroke="#000" stroke-width="4.6" fill="none"/>
<circle cx="221.6" cy="383.4" r="9.6"/>
<path d="M198.2 452.5H222M235.7 452.5H259.1" stroke="#0000cd" stroke-width="4.8" fill="none"/>
<path d="M212.4 443l19.2 19M231.6 443l-19.2 19" stroke="#0000cd" stroke-width="1.1" fill="none"/>
<path d="M180.1 521.8H261.2" stroke="#ff0000" stroke-width="4.8" stroke-dasharray="7.2 2.1" fill="none"/>
<path d="M221.9 514.8l9.3 14.4h-18.6z" fill="#fff" stroke="#ff0000" stroke-width="1"/>
<path d="M184.8 591.3H191.7M198.4 591.3H215M222 591.3H229M236.1 591.3H251.9" stroke="#068006" stroke-width="4.8" fill="none"/>
<path d="M212 584h19.8l-9.9 14.4z" fill="#068006"/>
</svg>
</body></html>
